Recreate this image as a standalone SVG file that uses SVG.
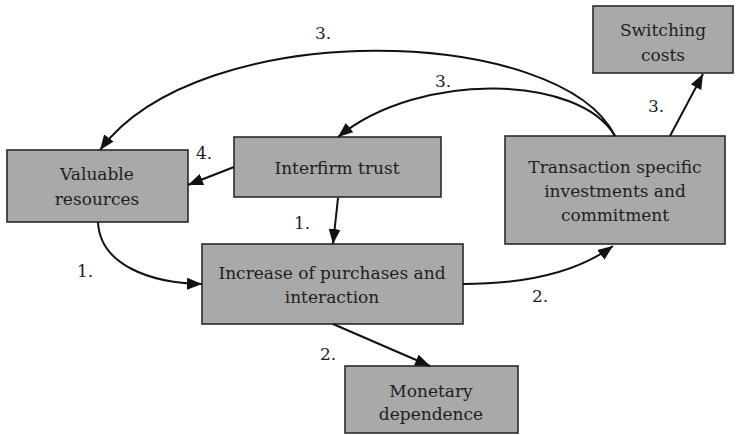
<svg xmlns="http://www.w3.org/2000/svg" width="738" height="435" viewBox="0 0 738 435">
<style>
.box{fill:#a9a9a9;stroke:#2a2a2a;stroke-width:1.6}
text{font-family:"DejaVu Serif","Liberation Serif",serif;font-size:17px;fill:#1e1e1e}
.t{text-anchor:middle}
.c{fill:none;stroke:#111;stroke-width:2;marker-end:url(#ah)}
</style>
<defs>
<marker id="ah" markerUnits="userSpaceOnUse" markerWidth="16" markerHeight="12" refX="15" refY="6" orient="auto">
<path d="M0,0 L15,6 L0,12 z" fill="#111"/>
</marker>
</defs>
<rect width="738" height="435" fill="#fff"/>
<g id="valuable">
<rect class="box" x="7" y="150" width="181" height="72"/>
<text class="t" x="97" y="180">Valuable</text>
<text class="t" x="97" y="205">resources</text>
</g>
<g id="interfirm">
<rect class="box" x="234" y="137" width="207" height="60"/>
<text class="t" x="337" y="174">Interfirm trust</text>
</g>
<g id="switching">
<rect class="box" x="593" y="6" width="140" height="67"/>
<text class="t" x="663" y="36">Switching</text>
<text class="t" x="663" y="61">costs</text>
</g>
<g id="transaction">
<rect class="box" x="505" y="136" width="220" height="108"/>
<text class="t" x="615" y="173">Transaction specific</text>
<text class="t" x="615" y="197">investments and</text>
<text class="t" x="615" y="221">commitment</text>
</g>
<g id="increase">
<rect class="box" x="202" y="244" width="261" height="80"/>
<text class="t" x="332" y="279">Increase of purchases and</text>
<text class="t" x="332" y="303">interaction</text>
</g>
<g id="monetary">
<rect class="box" x="345" y="366" width="173" height="67"/>
<text class="t" x="431" y="397">Monetary</text>
<text class="t" x="431" y="420">dependence</text>
</g>
<g id="connectors">
<path class="c" d="M615,136 C560,25 200,15 100,150"/>
<path class="c" d="M615,136 C580,75 420,70 338,137"/>
<path class="c" d="M670,136 L703,74"/>
<path class="c" d="M234,167 L188,185"/>
<path class="c" d="M338,198 L333,244"/>
<path class="c" d="M98,222 C100,265 150,283 202,284"/>
<path class="c" d="M463,284 C530,284 580,270 613,246"/>
<path class="c" d="M333,324 L430,366"/>
<text x="315" y="39">3.</text>
<text x="435" y="87">3.</text>
<text x="648" y="112">3.</text>
<text x="196" y="159">4.</text>
<text x="294" y="229">1.</text>
<text x="77" y="277">1.</text>
<text x="532" y="302">2.</text>
<text x="320" y="360">2.</text>
</g>
</svg>
